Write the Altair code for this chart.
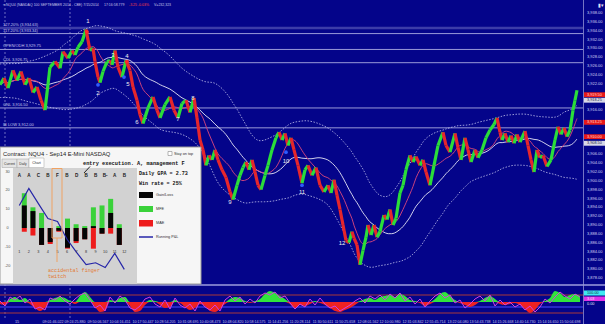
import altair as alt
import pandas as pd

# ---------------- data ----------------
price_t = [0, 4, 8, 13, 17, 21, 25, 29, 33, 37,
           41, 45, 50, 55, 60, 63, 68, 72, 75, 78,
           82, 86, 90, 93, 95, 98, 100, 103, 107, 110,
           112, 115, 118, 122, 126, 130, 133, 137, 140, 143,
           148, 153, 157, 160, 165, 170, 174, 178, 182, 186,
           190, 194, 197, 200, 203, 206, 209, 212, 215, 218,
           222, 226, 230, 233, 237, 240, 243, 246, 249, 252,
           255, 258, 261, 265, 268, 272, 276, 279, 282, 285,
           288, 291, 294, 298, 302, 305, 308, 312, 316, 320,
           324, 328, 331, 334, 337, 340, 343, 346, 349, 352,
           354, 357, 360, 363, 366, 368, 371, 374, 377, 380,
           384, 387, 390, 393, 396, 400, 403, 406, 410, 413,
           416, 420, 423, 426, 430, 434, 438, 443, 446, 450,
           455, 458, 461, 465, 468, 471, 475, 478, 482, 486,
           490, 494, 497, 500, 502, 505, 508, 511, 514, 517,
           520, 525, 528, 531, 534, 537, 540, 543, 547, 551,
           555, 558, 561, 564, 567, 570, 573, 575, 577]
price_p = [3921.75, 3923.25, 3921.0, 3925.0, 3922.75, 3924.75, 3921.75, 3923.25, 3920.0, 3921.25,
           3918.25, 3916.0, 3925.75, 3927.0, 3925.5, 3929.25, 3927.75, 3929.5, 3928.5, 3930.25,
           3931.5, 3934.25, 3929.5, 3930.0, 3927.0, 3923.5, 3922.25, 3924.75, 3927.0, 3927.25,
           3926.25, 3929.5, 3925.75, 3923.5, 3927.25, 3925.0, 3921.25, 3918.25, 3915.0, 3913.0,
           3916.5, 3919.0, 3916.0, 3914.25, 3917.25, 3919.0, 3916.0, 3914.25, 3917.5, 3918.25,
           3915.5, 3918.75, 3914.25, 3909.25, 3907.0, 3903.5, 3905.75, 3904.75, 3907.0, 3904.75,
           3902.5, 3900.75, 3897.5, 3895.75, 3899.0, 3901.25, 3903.0, 3904.25, 3902.5, 3904.75,
           3902.0, 3899.0, 3898.0, 3901.25, 3903.5, 3907.0, 3909.75, 3911.0, 3909.25, 3910.75,
           3908.0, 3909.75, 3907.0, 3903.5, 3899.5, 3902.5, 3903.5, 3901.25, 3903.0, 3899.0,
           3897.5, 3899.0, 3897.25, 3900.25, 3896.75, 3893.5, 3890.0, 3886.5, 3886.0, 3888.5,
           3887.0, 3885.5, 3881.0, 3884.25, 3887.25, 3890.0, 3887.75, 3890.0, 3887.25, 3888.5,
           3892.25, 3891.25, 3893.5, 3890.0, 3891.5, 3897.25, 3899.0, 3902.5, 3905.75, 3904.25,
           3905.5, 3903.5, 3904.75, 3902.0, 3899.0, 3903.5, 3908.0, 3911.0, 3908.0, 3906.5,
           3910.75, 3907.5, 3904.75, 3909.75, 3907.0, 3904.25, 3907.0, 3905.25, 3907.0, 3909.75,
           3911.5, 3912.75, 3914.25, 3911.0, 3909.25, 3910.75, 3908.75, 3910.25, 3908.5, 3910.5,
           3908.75, 3911.25, 3908.0, 3904.75, 3902.0, 3907.0, 3905.25, 3905.75, 3903.25, 3904.75,
           3909.25, 3912.25, 3910.5, 3912.0, 3910.0, 3911.5, 3916.0, 3918.25, 3920.5]

level_names = ["127.20% (3,934.63)", "117.20% (3,933.34)", "OPEN/ODH  3,929.75",
               "CDL  3,926.75", "ONL  3,916.50", "IB LOW  3,912.00"]
level_values = [3934.63, 3933.34, 3929.75, 3926.75, 3916.50, 3912.00]
level_kind = ["band", "line", "line", "line", "line", "line"]

price_ticks = [3878, 3880, 3882, 3884, 3886, 3888, 3890, 3892, 3894, 3896, 3898,
               3900, 3902, 3904, 3906, 3908, 3910, 3912, 3914, 3916, 3918,
               3920, 3922, 3924, 3926, 3928, 3930, 3932, 3934, 3936, 3938]

marker_values = [3919.50, 3918.25, 3913.25, 3910.00, 3908.50]
marker_kind = ["red", "grey", "red", "red", "grey"]

wave_labels = ["1", "2", "3", "4", "5", "6", "7", "8", "9", "10", "11", "12"]
wave_t = [88, 98, 113, 127, 128, 137, 178, 193, 230, 286, 302, 342]
wave_p = [3936.25, 3920.0, 3928.5, 3928.25, 3922.0, 3913.25, 3914.0, 3918.75,
          3895.25, 3904.5, 3897.5, 3886.0]

dot_t = [87, 127, 98, 124, 286, 302]
dot_p = [3933.75, 3927.0, 3921.75, 3923.5, 3906.5, 3899.0]
dot_side = ["sell", "sell", "buy", "buy", "buy", "buy"]

separator_t = [5, 70]

osc_hist = [-2, -3, 3, 5, 2, 4, -2, -6, -9, -6,
            2, 4, 5, 4, 1, -2, 6, 10, 5, -5,
            -10, -9, 2, 1, 4, 5, -4, -10, -9, -3,
            2, 1, -3, -6, -5, 2, -1, -5, -8, -6,
            -2, -4, -9, -10, -7, -2, 3, 5, 4, 1,
            -1, 1, 3, 8, 11, 9, 6, 3, -2, -6,
            -3, -4, -2, 1, -1, -3, -6, -9, -10, -8,
            -6, -3, 1, 3, 4, 2, 5, 6, 7, 5,
            8, 6, 2, 1, -1, -4, -2, 3, 8, 10,
            6, 2, -1, -3, -5, -3, 1, 4, 6, 3,
            -2, -3, -2, -1, -3, -7, -11, -8, -2, 1,
            4, 11, 9, 5, 7, 8, 6]
osc_line = [1, -4, 5, 2, 6, -1, 3, -7, -5, -8,
            4, 2, 6, 1, -2, 3, 7, 9, 2, -6,
            -3, -9, 5, -1, 6, 2, -6, -8, -4, 3,
            5, -2, -5, 2, -7, 4, -3, -6, -2, -9,
            1, -5, -8, -3, -9, 2, 6, 1, 5, -2,
            3, -1, 6, 9, 7, 10, 4, 6, -1, -7,
            -2, -5, 3, -3, 4, -2, -6, -4, -9, -6,
            -3, 1, 4, -1, 6, 3, 7, 2, 8, 4,
            9, 1, 5, -2, 3, -5, 1, 6, 9, 4,
            7, -1, 2, -6, -2, 3, 6, 1, 7, -4,
            2, -3, 0, -5, -2, -8, -4, -10, -5, 3,
            -1, 5, 10, 6, 3, 8, 5]
osc_step = 5
osc_levels = [7, -11, -5]
osc_level_colors = ["#a83838", "#a83838", "#4a4aff"]

time_labels = ["09:01:46.022", "09:24:25.880", "09:50:06.567", "10:04:16.451",
               "10:17:50.447", "10:28:54.205", "10:31:08.695", "10:40:08.473",
               "10:48:04.820", "10:58:14.575", "11:14:41.256", "11:20:28.114",
               "11:30:50.611", "11:50:25.658", "12:08:01.562", "12:10:00.980",
               "12:31:03.842", "12:55:45.714", "13:22:04.080", "13:54:43.738",
               "14:15:26.668", "14:40:14.730", "15:14:16.650", "15:50:04.698"]
time_ticks = [53, 75, 98, 120, 143, 165, 188, 210, 233, 255, 278, 300,
              323, 345, 368, 390, 413, 435, 458, 480, 503, 525, 548, 570]

trade_no = [1, 2, 3, 4, 5, 6, 7, 8, 9, 10, 11, 12]
trade_grade = ["A", "A", "C", "B", "F", "B", "D", "B", "B", "B-", "A", "B"]
trade_gl = [12, 9, -9, -7.5, -1.5, -10.5, -7, -6, 1, -3, 8, -9]
trade_mfe = [18.5, 11, 8, 0, 1, 5, 2, 1, 11, 12, 15.5, 2]
trade_mae = [-2, -4, -9, -8.5, -2, -11, -8, -6, -11, -3, -3, -9]
trade_pnl = [12, 21, 13, 5, 3.5, -6, -13, -19.5, -18.5, -21, -13.5, -22]
inset_ticks = [30, 20, 10, 0, -10, -20]

# ---------------- tables ----------------
pts = pd.DataFrame({"t": price_t, "p": price_p})
seg = pts.copy()
seg["t2"] = seg["t"].shift(-1)
seg["p2"] = seg["p"].shift(-1)
seg = seg.dropna()
seg["dir"] = ["up" if b > a else "down" for a, b in zip(seg["p"], seg["p2"])]

levels = pd.DataFrame({"name": level_names, "v": level_values, "kind": level_kind})
shown_ticks = [v for v in price_ticks if all(abs(v - m) > 1.6 for m in marker_values)]
ticks = pd.DataFrame({"p": shown_ticks, "lab": [f"{v:,.2f}" for v in shown_ticks]})
markers = pd.DataFrame({"p": marker_values, "kind": marker_kind,
                        "lab": [f"{v:,.2f}" for v in marker_values]})
waves = pd.DataFrame({"t": wave_t, "p": wave_p, "lab": wave_labels})
dots = pd.DataFrame({"t": dot_t, "p": dot_p, "side": dot_side})
seps = pd.DataFrame({"t": separator_t})
osc = pd.DataFrame({"t": [i * osc_step for i in range(len(osc_hist))],
                    "v": osc_hist, "m": osc_line})
osc_lv = pd.DataFrame({"v": osc_levels, "c": osc_level_colors})
times = pd.DataFrame({"t": time_ticks, "lab": time_labels})
trades = pd.DataFrame({"n": trade_no, "g": trade_grade, "gl": trade_gl,
                       "mfe": trade_mfe, "mae": trade_mae, "pnl": trade_pnl})
itk = pd.DataFrame({"v": inset_ticks, "lab": [str(v) for v in inset_ticks]})
one = pd.DataFrame({"k": [0]})

# ---------------- scales ----------------
T = alt.Scale(domain=[0, 583], range=[0, 583], nice=False, zero=False)
P = alt.Scale(domain=[3878, 3938], range=[278, 13], nice=False, zero=False)
OY = alt.Scale(domain=[-15, 15], range=[317, 287], nice=False, zero=False)
TX = alt.Scale(domain=[1, 12], range=[19.3, 124.3], nice=False, zero=False)
TY = alt.Scale(domain=[-25, 30], range=[275, 171.6], nice=False, zero=False)

def xT(f="t"):
    return alt.X(f"{f}:Q", scale=T, axis=None)

def yP(f="p"):
    return alt.Y(f"{f}:Q", scale=P, axis=None)

def rect(x, x2, y, y2, fill, stroke=None, sw=0.0):
    kw = dict(fill=fill)
    if stroke:
        kw.update(stroke=stroke, strokeWidth=sw)
    return alt.Chart(one).mark_rect(**kw).encode(
        x=alt.value(x), x2=alt.value(x2), y=alt.value(y), y2=alt.value(y2))

def line(x, y, x2, y2, color, sw=1.0, dash=None):
    kw = dict(color=color, strokeWidth=sw)
    if dash:
        kw.update(strokeDash=dash)
    return alt.Chart(one).mark_rule(**kw).encode(
        x=alt.value(x), y=alt.value(y), x2=alt.value(x2), y2=alt.value(y2))

def txt(x, y, s, size, color, font="Liberation Sans", align="left", weight="normal"):
    return alt.Chart(one).mark_text(text=s, fontSize=size, color=color, font=font,
                                    align=align, baseline="middle", fontWeight=weight).encode(
        x=alt.value(x), y=alt.value(y))

layers = []

# ---------- main price panel ----------
layers.append(alt.Chart(seps).mark_rule(color="#8c8cd0", strokeWidth=0.8, strokeDash=[2, 2]).encode(
    x=xT(), y=alt.value(0), y2=alt.value(318)))

layers.append(alt.Chart(levels).mark_rule().encode(
    y=yP("v"), x=alt.value(0), x2=alt.value(583),
    color=alt.Color("kind:N", scale=alt.Scale(domain=["band", "line"], range=["#3c3ca8", "#9a9ad8"]), legend=None),
    strokeWidth=alt.StrokeWidth("kind:N", scale=alt.Scale(domain=["band", "line"], range=[2.5, 1]), legend=None)))
layers.append(alt.Chart(levels).mark_text(align="left", baseline="bottom", dy=-1, fontSize=4,
                                          color="#c8c8ec", font="Liberation Sans").encode(
    x=alt.value(3), y=yP("v"), text="name:N"))

band_base = alt.Chart(pts).transform_window(
    m="mean(p)", s="stdev(p)", frame=[-14, 1], sort=[alt.SortField("t")]
).transform_calculate(
    hiB="datum.m + 1.6*datum.s + 1.5", loB="datum.m - 1.6*datum.s - 1.5"
).transform_window(
    hiS="mean(hiB)", loS="mean(loB)", frame=[-5, 5], sort=[alt.SortField("t")])
layers.append(band_base.mark_line(color="#c0c0ee", strokeWidth=0.8, strokeDash=[1.5, 1.5],
                                  interpolate="basis").encode(x=xT(), y=yP("hiS")))
layers.append(band_base.mark_line(color="#c0c0ee", strokeWidth=0.8, strokeDash=[1.5, 1.5],
                                  interpolate="basis").encode(x=xT(), y=yP("loS")))
layers.append(alt.Chart(pts).transform_window(
    ms="mean(p)", frame=[-16, 0], sort=[alt.SortField("t")]).mark_line(
    color="#e6e6f6", strokeWidth=0.9, interpolate="basis").encode(x=xT(), y=yP("ms")))
layers.append(alt.Chart(pts).transform_window(
    mf="mean(p)", frame=[-6, 0], sort=[alt.SortField("t")]).mark_line(
    color="#c8407e", strokeWidth=1, interpolate="basis").encode(x=xT(), y=yP("mf")))

layers.append(alt.Chart(seg).mark_rule(strokeWidth=3.2).encode(
    x=xT(), x2="t2:Q", y=yP(), y2="p2:Q",
    color=alt.Color("dir:N", scale=alt.Scale(domain=["up", "down"], range=["#2add3a", "#e6262c"]), legend=None)))

layers.append(alt.Chart(dots).mark_circle(size=14, opacity=1).encode(
    x=xT(), y=yP(),
    color=alt.Color("side:N", scale=alt.Scale(domain=["sell", "buy"], range=["#ff2a2a", "#2f5cff"]), legend=None)))
layers.append(alt.Chart(waves).mark_text(fontSize=6, color="#f0f0f0", font="Liberation Sans").encode(
    x=xT(), y=yP(), text="lab:N"))

# right price axis
layers.append(line(583.5, 0, 583.5, 324, "#7474c4", 1))
layers.append(alt.Chart(ticks).mark_text(align="left", baseline="middle", fontSize=4,
                                         color="#d4d4f4", font="Liberation Sans").encode(
    x=alt.value(587), y=yP(), text="lab:N"))
layers.append(alt.Chart(markers).transform_calculate(lo="datum.p - 0.55", hi="datum.p + 0.55").mark_rect().encode(
    x=alt.value(584), x2=alt.value(605), y=yP("lo"), y2="hi:Q",
    color=alt.Color("kind:N", scale=alt.Scale(domain=["red", "grey"], range=["#e81818", "#d8d8e8"]), legend=None)))
layers.append(alt.Chart(markers).mark_text(align="left", baseline="middle", fontSize=3.8,
                                           font="Liberation Sans").encode(
    x=alt.value(587), y=yP(), text="lab:N",
    color=alt.Color("kind:N", scale=alt.Scale(domain=["red", "grey"], range=["#ffdede", "#202040"]), legend=None)))
layers.append(txt(598, 5, "▮▾", 5, "#e0e0f0"))

# header
layers.append(txt(3, 5, "≡ NQU4 (NASDAQ 100 SEPTEMBER 2014 - CBE)  7/15/2014", 3.5, "#c4c4e8"))
layers.append(txt(104, 5, "17:16:58.779", 3.5, "#c4c4e8"))
layers.append(txt(129, 5, "-3.25   -0.03%", 3.5, "#ff4040"))
layers.append(txt(154, 5, "V=232,323", 3.5, "#c4c4e8"))

# ---------- oscillator panel ----------
layers.append(line(0, 285, 605, 285, "#9c9cdc", 1.5))
layers.append(alt.Chart(osc_lv).mark_rule(strokeWidth=1).encode(
    y=alt.Y("v:Q", scale=OY, axis=None), x=alt.value(0), x2=alt.value(583),
    color=alt.Color("c:N", scale=None)))
osc_base = alt.Chart(osc).transform_calculate(pos="max(datum.v, 0)", neg="min(datum.v, 0)", zero="0")
layers.append(osc_base.mark_area(color="#30e43c", interpolate="monotone").encode(
    x=xT(), y=alt.Y("pos:Q", scale=OY, axis=None), y2="zero:Q"))
layers.append(osc_base.mark_area(color="#ee2222", interpolate="monotone").encode(
    x=xT(), y=alt.Y("neg:Q", scale=OY, axis=None), y2="zero:Q"))
layers.append(alt.Chart(osc).mark_line(color="#d040e0", strokeWidth=1).encode(
    x=xT(), y=alt.Y("m:Q", scale=OY, axis=None)))
layers.append(rect(584, 605, 290.5, 295.5, "#40e8f0"))
layers.append(rect(584, 605, 296.5, 301, "#e030e8"))
layers.append(txt(587, 293, "100.00", 3.8, "#103040"))
layers.append(txt(587, 298.8, "3.03", 3.8, "#ffe0ff"))
layers.append(txt(587, 303.8, "0.00", 3.8, "#e0e0f0"))

layers.append(txt(17, 321.5, "15", 3.8, "#c8c8ec", align="center"))
layers.append(alt.Chart(times).mark_text(fontSize=3.6, color="#c8c8ec", font="Liberation Sans",
                                         baseline="middle").encode(
    x=xT(), y=alt.value(321.5), text="lab:N"))

# ---------- inset trade panel ----------
layers.append(rect(0, 201, 147, 284, "#f6f6f6", "#9a9a9a", 1))
layers.append(txt(3, 153.5, "Contract: NQU4 - Sep14 E-Mini NASDAQ", 5.8, "#1a1a1a"))
layers.append(rect(168, 172, 151.5, 155.5, "#ffffff", "#888888", 0.6))
layers.append(txt(174, 153.5, "Stay on top", 3.8, "#303030"))
layers.append(rect(2, 17, 159, 167.5, "#e4e4e4", "#a0a0a0", 0.5))
layers.append(rect(17, 29, 159, 167.5, "#e4e4e4", "#a0a0a0", 0.5))
layers.append(rect(29, 44, 158, 167.5, "#ffffff", "#a0a0a0", 0.5))
layers.append(txt(9.5, 163.5, "Current", 3.3, "#303030", align="center"))
layers.append(txt(23, 163.5, "Daily", 3.3, "#303030", align="center"))
layers.append(txt(36.5, 163, "Chart", 3.5, "#303030", align="center"))
layers.append(rect(13, 137, 168, 284, "#d2d2d2"))

layers.append(alt.Chart(itk).mark_text(fontSize=3.8, color="#505050", font="Liberation Sans").encode(
    x=alt.value(7.5), y=alt.Y("v:Q", scale=TY, axis=None), text="lab:N"))

tz = alt.Chart(trades).transform_calculate(zero="0")
layers.append(tz.mark_bar(size=5, color="#3ad23a").encode(
    x=alt.X("n:Q", scale=TX, axis=None), y=alt.Y("mfe:Q", scale=TY, axis=None), y2="zero:Q"))
layers.append(tz.mark_bar(size=5, color="#ee1c1c").encode(
    x=alt.X("n:Q", scale=TX, axis=None), y=alt.Y("mae:Q", scale=TY, axis=None), y2="zero:Q"))
layers.append(tz.mark_bar(size=5, color="#050505").encode(
    x=alt.X("n:Q", scale=TX, axis=None), y=alt.Y("gl:Q", scale=TY, axis=None), y2="zero:Q"))
layers.append(alt.Chart(trades).mark_line(color="#2626a8", strokeWidth=1.2).encode(
    x=alt.X("n:Q", scale=TX, axis=None), y=alt.Y("pnl:Q", scale=TY, axis=None)))
layers.append(alt.Chart(trades).mark_text(fontSize=4.6, fontWeight="bold", color="#202020",
                                          font="Liberation Sans").encode(
    x=alt.X("n:Q", scale=TX, axis=None), y=alt.value(175.5), text="g:N"))
layers.append(alt.Chart(trades).mark_text(fontSize=3.8, color="#303030", font="Liberation Sans").encode(
    x=alt.X("n:Q", scale=TX, axis=None), y=alt.value(251.5), text="n:N"))

# annotations
layers.append(rect(52, 62, 168.5, 238, "transparent", "#f0a262", 1))
layers.append(line(57, 238, 57, 262, "#f0a262", 1))
layers.append(txt(48, 269.5, "accidental finger", 5.1, "#e27a32", font="Liberation Mono"))
layers.append(txt(48, 275.5, "twitch", 5.1, "#e27a32", font="Liberation Mono"))
layers.append(txt(83, 163, "entry execution. A, management F", 5.3, "#111111",
                  font="Liberation Mono", weight="bold"))
layers.append(line(90, 166.5, 84, 173, "#111111", 0.9))
layers.append(txt(139, 173, "Daily GPA = 2.73", 5.1, "#111111", font="Liberation Mono", weight="bold"))
layers.append(txt(139, 182.5, "Win rate = 25%", 5.1, "#111111", font="Liberation Mono", weight="bold"))

# legend
layers.append(rect(139, 153, 192, 198, "#050505"))
layers.append(rect(139, 153, 206, 212, "#3ad23a"))
layers.append(rect(139, 153, 220, 226.5, "#ee1c1c"))
layers.append(line(139, 237, 153, 237, "#2626a8", 1.5))
layers.append(txt(156, 195, "Gain/Loss", 3.8, "#303030"))
layers.append(txt(156, 209, "MFE", 3.8, "#303030"))
layers.append(txt(156, 223, "MAE", 3.8, "#303030"))
layers.append(txt(156, 237, "Running P&L", 3.8, "#303030"))

chart = alt.layer(*layers).resolve_scale(
    x="independent", y="independent", color="independent", strokeWidth="independent"
).properties(
    width=605, height=324, background="#04048a", padding=0, autosize="none"
).configure_view(stroke=None)

chart.save("out.html", embed_options={"renderer": "svg", "actions": False})
